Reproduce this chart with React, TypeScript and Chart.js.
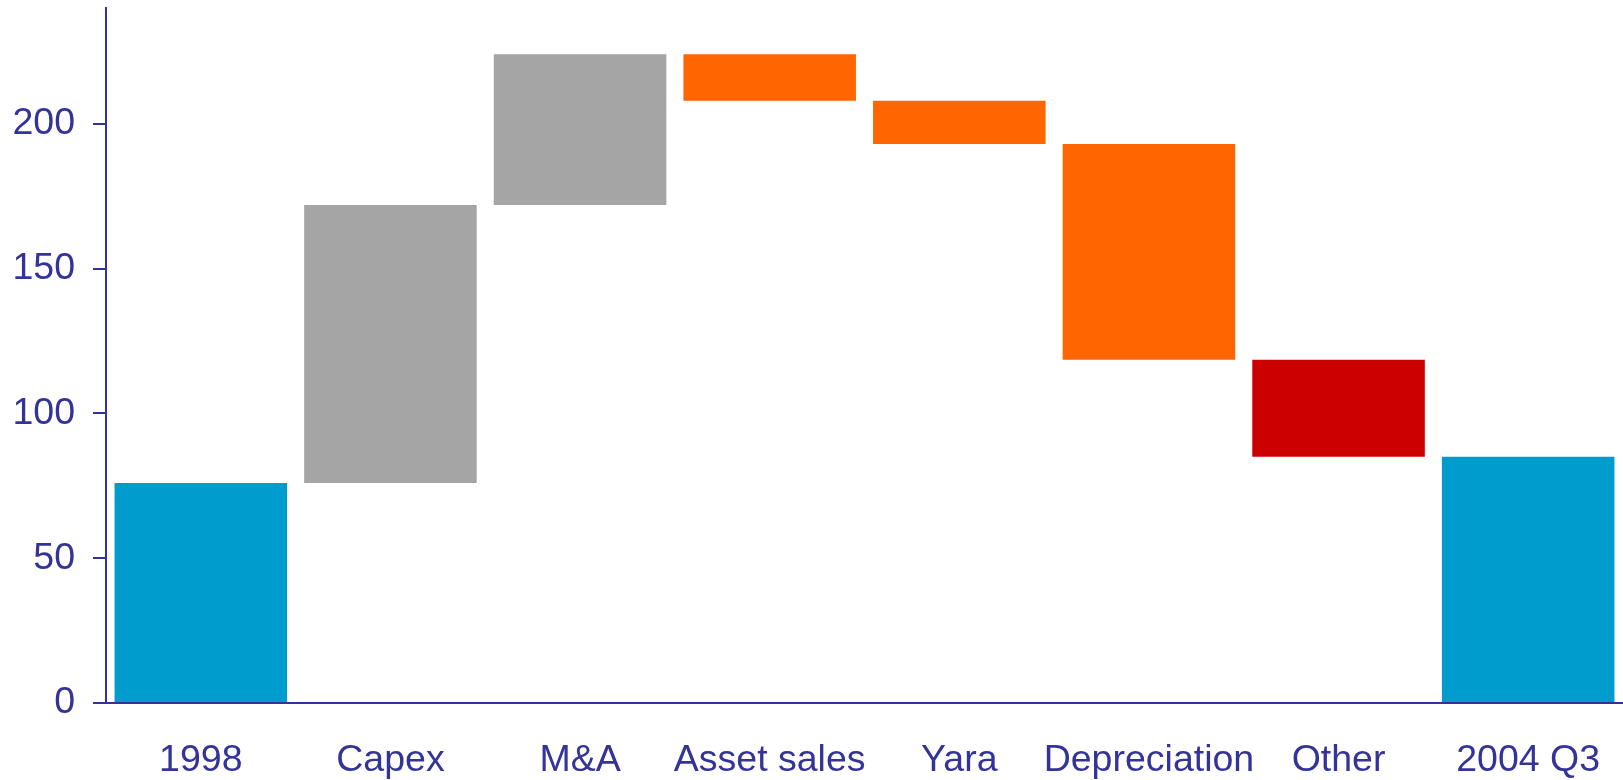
import React, { useEffect, useRef } from "react";
import { Chart, registerables } from "chart.js";

Chart.register(...registerables);

const categories = ["1998", "Capex", "M&A", "Asset sales", "Yara", "Depreciation", "Other", "2004 Q3"];
const barLow = [0, 76, 172, 208, 193, 118.5, 85, 0];
const barHigh = [76, 172, 224, 224, 208, 193, 118.5, 85];
const barColors = ["#009CCD", "#A5A5A5", "#A5A5A5", "#FF6600", "#FF6600", "#FF6600", "#CC0000", "#009CCD"];
const yTicks = [0, 50, 100, 150, 200];

const AXIS = "#333399";
const FONT = { family: "'Liberation Sans', Arial, sans-serif", size: 37.5 };

export default function App() {
  const ref = useRef<HTMLCanvasElement | null>(null);
  useEffect(() => {
    document.body.style.margin = "0";
    if (!ref.current) return;
    const chart = new Chart(ref.current, {
      type: "bar",
      data: {
        labels: categories,
        datasets: [
          {
            data: categories.map((_, i) => [barLow[i], barHigh[i]]) as any,
            backgroundColor: barColors,
            borderWidth: 0,
            barPercentage: 0.91,
            categoryPercentage: 1,
          },
        ],
      },
      options: {
        animation: false,
        responsive: false,
        maintainAspectRatio: false,
        layout: { padding: { top: 8, right: 0, left: 0, bottom: 0 } },
        plugins: { legend: { display: false }, tooltip: { enabled: false } },
        scales: {
          x: {
            grid: { display: false },
            border: { display: true, color: AXIS, width: 2 },
            ticks: { color: AXIS, font: FONT, padding: 27, maxRotation: 0, autoSkip: false },
            afterFit: (s: any) => {
              s.height = 77;
              s.paddingLeft = 0;
              s.paddingRight = 0;
            },
          },
          y: {
            min: 0,
            max: 240,
            grid: { drawOnChartArea: false, drawTicks: true, tickLength: 13, color: AXIS, lineWidth: 2 },
            border: { display: true, color: AXIS, width: 2 },
            ticks: { color: AXIS, font: FONT, padding: 18, stepSize: 50 },
            afterBuildTicks: (s: any) => {
              s.ticks = yTicks.map((v) => ({ value: v }));
            },
            afterFit: (s: any) => {
              s.width = 106;
              s.paddingTop = 0;
              s.paddingBottom = 0;
            },
          },
        },
      },
    });
    return () => chart.destroy();
  }, []);
  return (
    <div style={{ position: "absolute", left: 0, top: 0, width: 1623, height: 780 }}>
      <canvas ref={ref} width={1623} height={780} style={{ display: "block" }} />
    </div>
  );
}
